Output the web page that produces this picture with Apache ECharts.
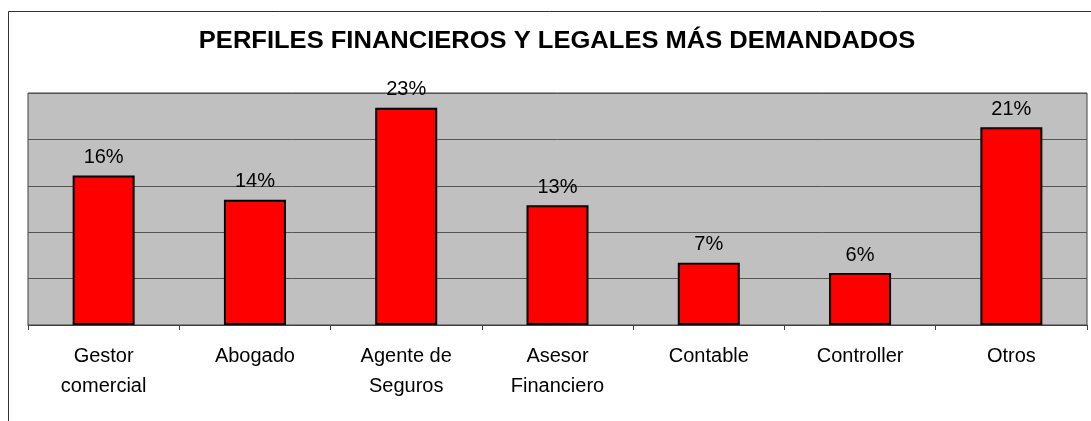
<!DOCTYPE html>
<html>
<head>
<meta charset="utf-8">
<script src="https://cdn.jsdelivr.net/npm/echarts@6/dist/echarts.min.js"></script>
<style>
html,body{margin:0;padding:0;background:#fff;}
#chart{width:1091px;height:421px;}
</style>
</head>
<body>
<div id="chart"></div>
<script>
const titleText = 'PERFILES FINANCIEROS Y LEGALES MÁS DEMANDADOS';
const categories = ['Gestor\ncomercial', 'Abogado', 'Agente de\nSeguros', 'Asesor\nFinanciero', 'Contable', 'Controller', 'Otros'];
const values = [16.1, 13.5, 23.4, 12.9, 6.7, 5.6, 21.3];

const chart = echarts.init(document.getElementById('chart'), null, {renderer: 'canvas'});
chart.setOption({
  animation: false,
  backgroundColor: '#ffffff',
  graphic: [
    {
      type: 'polyline',
      shape: {points: [[8.5, 430], [8.5, 11.5], [1091, 11.5]]},
      style: {fill: 'none', stroke: '#333', lineWidth: 1},
      silent: true
    },
    {
      type: 'text',
      x: 557, y: 42,
      scaleX: 1.11,
      style: {
        text: titleText,
        fontFamily: 'Liberation Sans', fontWeight: 'bold', fontSize: 23,
        fill: '#000', align: 'center', verticalAlign: 'middle'
      },
      silent: true
    }
  ],
  grid: {
    left: 28, right: 4, top: 93, bottom: 96,
    show: true, backgroundColor: '#C0C0C0', borderColor: '#404040', borderWidth: 1
  },
  xAxis: {
    type: 'category',
    data: categories,
    axisLine: {show: true, lineStyle: {color: '#404040', width: 1}},
    axisTick: {show: true, length: 5, lineStyle: {color: '#404040'}},
    axisLabel: {fontFamily: 'Liberation Sans', fontSize: 20, color: '#000', margin: 16, lineHeight: 30, interval: 0}
  },
  yAxis: {
    type: 'value',
    min: 0, max: 25, interval: 5,
    axisLabel: {show: false},
    axisLine: {show: false},
    axisTick: {show: false},
    splitLine: {show: true, lineStyle: {color: '#555', width: 1}}
  },
  series: [{
    type: 'bar',
    data: values,
    barWidth: 62,
    itemStyle: {color: '#FF0000', borderColor: '#000', borderWidth: 2},
    label: {
      show: true, position: 'top', distance: 8,
      fontFamily: 'Liberation Sans', fontSize: 20, color: '#000',
      formatter: p => Math.round(p.value) + '%'
    }
  }]
});
</script>
</body>
</html>
